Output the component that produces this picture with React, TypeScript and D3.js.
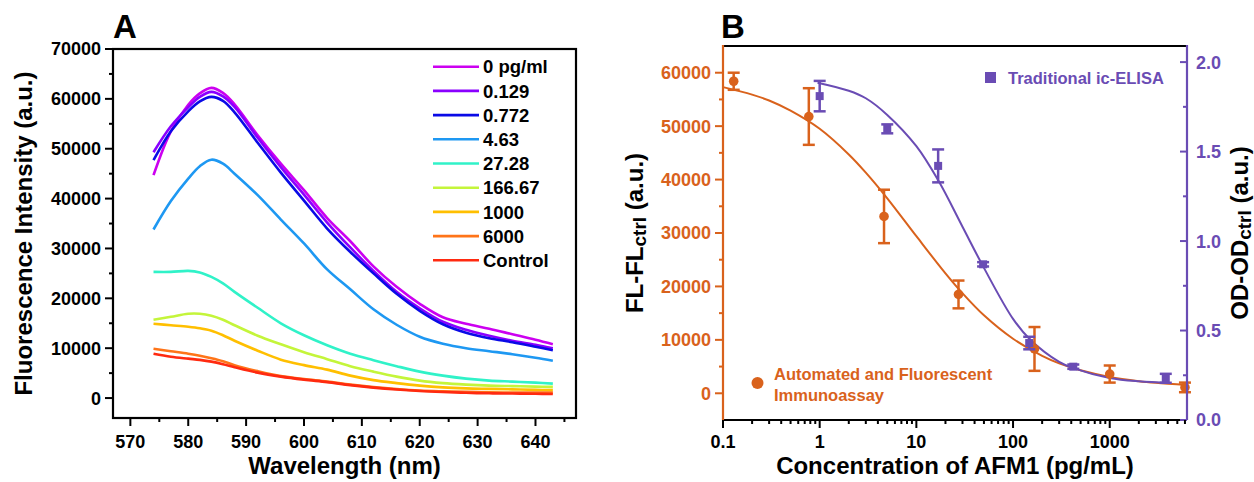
import React from 'react';
import * as d3 from 'd3';

const FONT = '"Liberation Sans", Arial, Helvetica, sans-serif';
const ORANGE = '#d9621c';
const PURPLE = '#6a4cb4';

// ---- panel A: emission spectra ----
const wavelengths = [574, 577, 580, 582, 584, 586, 588, 592, 596, 600, 604, 608, 612, 616, 620, 624, 628, 632, 636, 640, 643];
const seriesNames = ['0 pg/ml', '0.129', '0.772', '4.63', '27.28', '166.67', '1000', '6000', 'Control'];
const seriesColors = ['#cc00f0', '#8a00ff', '#0a0ae6', '#1e98f2', '#30f2c8', '#c4f53a', '#ffbf00', '#ff7418', '#ff2a10'];
const s0 = [44700, 53500, 58800, 61100, 62200, 61200, 58900, 52700, 47000, 41700, 36100, 31450, 26400, 22300, 18900, 16200, 14900, 13900, 12800, 11700, 10800];
const s0129 = [49300, 54500, 58300, 60400, 61400, 60500, 58400, 52200, 46300, 40800, 35200, 30200, 25500, 21300, 18000, 15300, 13700, 12500, 11500, 10700, 10000];
const s0772 = [47700, 53500, 57500, 59500, 60400, 59600, 57300, 51200, 45200, 39600, 34000, 29300, 25000, 20900, 17500, 14800, 13100, 12000, 11200, 10300, 9600];
const s463 = [33800, 39500, 44000, 46500, 47800, 47000, 45000, 40700, 35800, 31000, 25800, 21800, 17800, 14700, 12300, 10900, 10000, 9400, 8800, 8100, 7500];
const s2728 = [25300, 25300, 25500, 25200, 24300, 23000, 21300, 18100, 15000, 12600, 10600, 8900, 7600, 6400, 5300, 4500, 3900, 3500, 3300, 3100, 2900];
const s16667 = [15700, 16300, 16900, 16900, 16500, 15700, 14600, 12500, 10800, 9200, 7800, 6400, 5300, 4300, 3500, 3000, 2700, 2500, 2400, 2300, 2250];
const s1000 = [14900, 14600, 14300, 14000, 13500, 12600, 11500, 9500, 7700, 6600, 5700, 4500, 3600, 3000, 2500, 2150, 1950, 1850, 1750, 1650, 1600];
const s6000 = [9900, 9400, 8900, 8500, 8000, 7400, 6600, 5400, 4400, 3800, 3300, 2700, 2200, 1800, 1500, 1350, 1250, 1150, 1100, 1100, 1100];
const sControl = [8900, 8300, 7900, 7650, 7300, 6800, 6200, 5100, 4300, 3700, 3200, 2600, 2100, 1700, 1400, 1200, 1050, 950, 900, 850, 800];
const spectra = [s0, s0129, s0772, s463, s2728, s16667, s1000, s6000, sControl];
const wlTicks = [570, 580, 590, 600, 610, 620, 630, 640];
const flTicks = [0, 10000, 20000, 30000, 40000, 50000, 60000, 70000];

// ---- panel B: calibration curves ----
const flConc = [0.129, 0.772, 4.63, 27.28, 166.67, 1000, 6000];
const flValue = [58400, 51800, 33100, 18500, 8300, 3600, 1100];
const flErr = [1600, 5300, 5000, 2600, 4100, 1600, 900];
const flFitX = [0.1, 0.2, 0.3, 0.5, 1, 2, 3, 5, 10, 20, 30, 50, 100, 200, 300, 500, 1000, 2000, 3000, 6300];
const flFitY = [57300, 55900, 54800, 52900, 49500, 44700, 41300, 36500, 29400, 22440, 18720, 14590, 10200, 7000, 5600, 4300, 3050, 2270, 1960, 1560];

const odConc = [1, 5, 16.8, 49, 147, 420, 3800];
const odValue = [1.81, 1.627, 1.42, 0.87, 0.43, 0.298, 0.233];
const odErr = [0.085, 0.025, 0.092, 0.012, 0.035, 0.012, 0.025];
const odFitX = [0.95, 2, 3, 5, 10, 17, 30, 50, 100, 150, 300, 420, 1000, 2000, 4200];
const odFitY = [1.885, 1.84, 1.798, 1.705, 1.53, 1.335, 1.08, 0.85, 0.565, 0.45, 0.325, 0.29, 0.235, 0.216, 0.207];

const concTicks = [0.1, 1, 10, 100, 1000];
const concLabels = ['0.1', '1', '10', '100', '1000'];
const flBTicks = [0, 10000, 20000, 30000, 40000, 50000, 60000];
const odTicks = [0, 0.5, 1, 1.5, 2];

const A = { left: 113, right: 576, top: 49, bottom: 418 };
const B = { left: 723, right: 1187, top: 46, bottom: 420 };

function PanelA() {
  const x = d3.scaleLinear().domain([567, 647]).range([A.left, A.right]);
  const y = d3.scaleLinear().domain([-4000, 70000]).range([A.bottom, A.top]);
  const line = d3.line<number>()
    .x((_, i) => x(wavelengths[i]))
    .y(d => y(d))
    .curve(d3.curveCatmullRom.alpha(0.5));
  const minorX = d3.range(575, 646, 10);
  const minorY = d3.range(5000, 70000, 10000);

  return (
    <g>
      {spectra.map((s, i) => (
        <path key={i} d={line(s) || ''} fill="none" stroke={seriesColors[i]} strokeWidth={2.6} />
      ))}
      <rect x={A.left} y={A.top} width={A.right - A.left} height={A.bottom - A.top}
        fill="none" stroke="#000" strokeWidth={2.2} />
      {flTicks.map(t => (
        <g key={t}>
          <line x1={A.left - 8} x2={A.left} y1={y(t)} y2={y(t)} stroke="#000" strokeWidth={2} />
          <text x={A.left - 12} y={y(t)} dy="0.36em" textAnchor="end" fontSize={18} fontWeight="bold">{t}</text>
        </g>
      ))}
      {minorY.map(t => (
        <line key={t} x1={A.left - 4} x2={A.left} y1={y(t)} y2={y(t)} stroke="#000" strokeWidth={2} />
      ))}
      {wlTicks.map(t => (
        <g key={t}>
          <line x1={x(t)} x2={x(t)} y1={A.bottom} y2={A.bottom + 8} stroke="#000" strokeWidth={2} />
          <text x={x(t)} y={448} textAnchor="middle" fontSize={18} fontWeight="bold">{t}</text>
        </g>
      ))}
      {minorX.map(t => (
        <line key={t} x1={x(t)} x2={x(t)} y1={A.bottom} y2={A.bottom + 4} stroke="#000" strokeWidth={2} />
      ))}
      <text x={(A.left + A.right) / 2} y={474} textAnchor="middle" fontSize={24} fontWeight="bold">Wavelength (nm)</text>
      <text transform={`translate(32,${(A.top + A.bottom) / 2}) rotate(-90)`} textAnchor="middle" fontSize={24} fontWeight="bold">
        Fluorescence Intensity (a.u.)
      </text>
      {seriesNames.map((n, i) => (
        <g key={n} transform={`translate(0,${66.7 + i * 24.2})`}>
          <line x1={433} x2={479} y1={0} y2={0} stroke={seriesColors[i]} strokeWidth={2.6} />
          <text x={483} y={0} dy="0.36em" fontSize={18.5} fontWeight="bold">{n}</text>
        </g>
      ))}
      <text x={113} y={38} fontSize={33} fontWeight="bold">A</text>
    </g>
  );
}

function PanelB() {
  const x = d3.scaleLog().domain([0.1, 6300]).range([B.left, B.right]);
  const yL = d3.scaleLinear().domain([-5000, 65000]).range([B.bottom, B.top]);
  const yR = d3.scaleLinear().domain([0, 2.09]).range([B.bottom, B.top]);
  const flLine = d3.line<number>().x((_, i) => x(flFitX[i])).y(d => yL(d)).curve(d3.curveCatmullRom.alpha(0.5));
  const odLine = d3.line<number>().x((_, i) => x(odFitX[i])).y(d => yR(d)).curve(d3.curveCatmullRom.alpha(0.5));
  const minorConc: number[] = [];
  [0.1, 1, 10, 100, 1000].forEach(dec => {
    for (let k = 2; k <= 9; k++) if (dec * k <= 6300) minorConc.push(dec * k);
  });
  const minorL = d3.range(5000, 60001, 10000);
  const minorR = [0.25, 0.75, 1.25, 1.75];
  const cap = 6;

  return (
    <g>
      <path d={flLine(flFitY) || ''} fill="none" stroke={ORANGE} strokeWidth={2} />
      <path d={odLine(odFitY) || ''} fill="none" stroke={PURPLE} strokeWidth={2} />
      {flConc.map((c, i) => {
        const cx = x(c);
        const y1 = yL(flValue[i] + flErr[i]);
        const y2 = yL(flValue[i] - flErr[i]);
        return (
          <g key={i} stroke={ORANGE} strokeWidth={2.5}>
            <line x1={cx} x2={cx} y1={y1} y2={y2} />
            <line x1={cx - cap} x2={cx + cap} y1={y1} y2={y1} />
            <line x1={cx - cap} x2={cx + cap} y1={y2} y2={y2} />
            <circle cx={cx} cy={yL(flValue[i])} r={4.8} fill={ORANGE} stroke="none" />
          </g>
        );
      })}
      {odConc.map((c, i) => {
        const cx = x(c);
        const y1 = yR(odValue[i] + odErr[i]);
        const y2 = yR(odValue[i] - odErr[i]);
        return (
          <g key={i} stroke={PURPLE} strokeWidth={2.5}>
            <line x1={cx} x2={cx} y1={y1} y2={y2} />
            <line x1={cx - cap} x2={cx + cap} y1={y1} y2={y1} />
            <line x1={cx - cap} x2={cx + cap} y1={y2} y2={y2} />
            <rect x={cx - 4} y={yR(odValue[i]) - 4} width={8} height={8} fill={PURPLE} stroke="none" />
          </g>
        );
      })}

      <line x1={B.left} x2={B.right} y1={B.top} y2={B.top} stroke="#000" strokeWidth={2.2} />
      <line x1={B.left} x2={B.right} y1={B.bottom} y2={B.bottom} stroke="#000" strokeWidth={2.2} />
      <line x1={B.left} x2={B.left} y1={B.top - 1} y2={B.bottom} stroke={ORANGE} strokeWidth={2.2} />
      <line x1={B.right} x2={B.right} y1={B.top - 1} y2={B.bottom} stroke={PURPLE} strokeWidth={2.2} />

      {flBTicks.map(t => (
        <g key={t}>
          <line x1={B.left - 8} x2={B.left} y1={yL(t)} y2={yL(t)} stroke={ORANGE} strokeWidth={2} />
          <text x={B.left - 12} y={yL(t)} dy="0.36em" textAnchor="end" fontSize={18} fontWeight="bold" fill={ORANGE}>{t}</text>
        </g>
      ))}
      {minorL.map(t => (
        <line key={t} x1={B.left - 4} x2={B.left} y1={yL(t)} y2={yL(t)} stroke={ORANGE} strokeWidth={2} />
      ))}
      {odTicks.map(t => (
        <g key={t}>
          <line x1={B.right - 7} x2={B.right} y1={yR(t)} y2={yR(t)} stroke={PURPLE} strokeWidth={2} />
          <text x={B.right + 9} y={yR(t)} dy="0.36em" fontSize={18} fontWeight="bold" fill={PURPLE}>{d3.format('.1f')(t)}</text>
        </g>
      ))}
      {minorR.map(t => (
        <line key={t} x1={B.right - 4} x2={B.right} y1={yR(t)} y2={yR(t)} stroke={PURPLE} strokeWidth={2} />
      ))}
      {concTicks.map((t, i) => (
        <g key={t}>
          <line x1={x(t)} x2={x(t)} y1={B.bottom} y2={B.bottom + 8} stroke="#000" strokeWidth={2} />
          <text x={x(t)} y={448} textAnchor="middle" fontSize={18} fontWeight="bold">{concLabels[i]}</text>
        </g>
      ))}
      {minorConc.map(t => (
        <line key={t} x1={x(t)} x2={x(t)} y1={B.bottom} y2={B.bottom + 4} stroke="#000" strokeWidth={2} />
      ))}

      <text x={(B.left + B.right) / 2} y={474} textAnchor="middle" fontSize={24} fontWeight="bold">
        Concentration of AFM1 (pg/mL)
      </text>
      <text transform={`translate(643,${(B.top + B.bottom) / 2}) rotate(-90)`} textAnchor="middle" fontSize={24} fontWeight="bold">
        FL-FL<tspan fontSize={19} dy={3}>ctrl</tspan><tspan dy={-3}> (a.u.)</tspan>
      </text>
      <text transform={`translate(1248,${(B.top + B.bottom) / 2}) rotate(-90)`} textAnchor="middle" fontSize={24} fontWeight="bold">
        OD-OD<tspan fontSize={19} dy={3}>ctrl</tspan><tspan dy={-3}> (a.u.)</tspan>
      </text>

      <rect x={985} y={72} width={11} height={11} fill={PURPLE} />
      <text x={1008} y={78} dy="0.36em" fontSize={16.5} fontWeight="bold" fill={PURPLE}>Traditional ic-ELISA</text>
      <circle cx={757.5} cy={383} r={6} fill={ORANGE} />
      <text x={774} y={374} dy="0.36em" fontSize={16.5} fontWeight="bold" fill={ORANGE}>Automated and Fluorescent</text>
      <text x={774} y={395} dy="0.36em" fontSize={16.5} fontWeight="bold" fill={ORANGE}>Immunoassay</text>

      <text x={721} y={38} fontSize={33} fontWeight="bold">B</text>
    </g>
  );
}

export default function App() {
  return (
    <svg width={1254} height={482} viewBox="0 0 1254 482"
      style={{ position: 'absolute', left: 0, top: 0, background: '#fff' }}
      fontFamily={FONT}>
      <PanelA />
      <PanelB />
    </svg>
  );
}
